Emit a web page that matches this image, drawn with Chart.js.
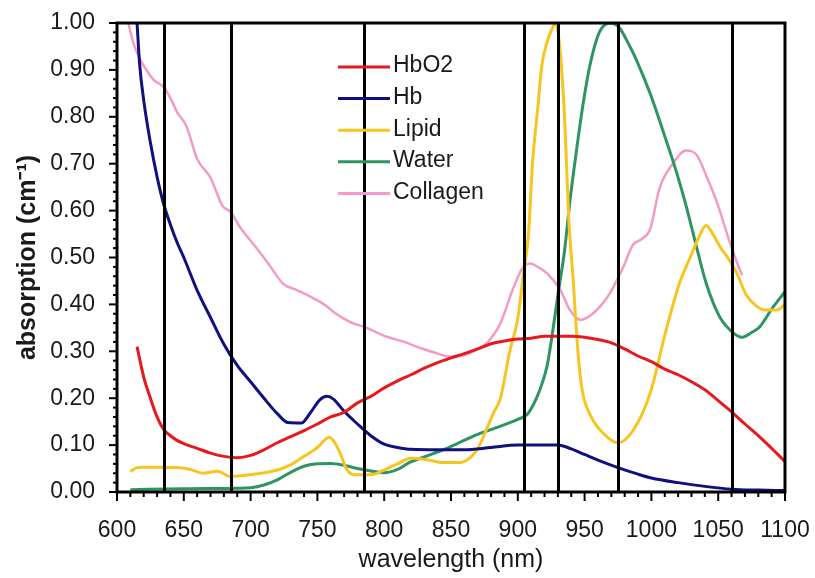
<!DOCTYPE html>
<html>
<head>
<meta charset="utf-8">
<script src="https://cdn.jsdelivr.net/npm/chart.js@4.4.1/dist/chart.umd.min.js"></script>
<style>
  html, body { margin: 0; padding: 0; background: #fff; }
  #wrap { width: 815px; height: 578px; }
</style>
</head>
<body>
<div id="wrap"><canvas id="absorcao" width="815" height="578"></canvas></div>
<script>
// valores: comprimento de onda (nm) e absorção (cm-1)
const hbo2Wl  = [615, 620, 625, 630, 635, 640, 645, 650, 660, 670, 680, 690, 700, 710, 720, 730, 740, 750, 760, 770, 780, 790, 800, 810, 820, 830, 840, 850, 860, 870, 880, 890, 900, 910, 920, 930, 940, 950, 960, 970, 980, 990, 1000, 1010, 1020, 1030, 1040, 1050, 1060, 1070, 1080, 1090, 1100];
const hbo2Abs = [0.31, 0.245, 0.20, 0.16, 0.133, 0.12, 0.11, 0.103, 0.093, 0.083, 0.076, 0.073, 0.078, 0.09, 0.105, 0.118, 0.131, 0.145, 0.16, 0.17, 0.19, 0.204, 0.222, 0.237, 0.25, 0.264, 0.276, 0.286, 0.295, 0.305, 0.316, 0.322, 0.326, 0.328, 0.332, 0.332, 0.332, 0.33, 0.325, 0.318, 0.305, 0.29, 0.278, 0.262, 0.25, 0.235, 0.218, 0.195, 0.171, 0.145, 0.12, 0.093, 0.065];

const hbWl  = [615, 617, 620, 625, 630, 635, 640, 645, 650, 660, 670, 680, 690, 700, 710, 720, 728, 738, 745, 752, 757, 762, 770, 780, 790, 800, 810, 820, 840, 860, 880, 900, 930, 940, 950, 960, 975, 990, 1000, 1020, 1040, 1060, 1080, 1100];
const hbAbs = [1.0, 0.91, 0.835, 0.745, 0.672, 0.613, 0.57, 0.532, 0.5, 0.43, 0.372, 0.315, 0.27, 0.235, 0.2, 0.167, 0.148, 0.147, 0.17, 0.197, 0.204, 0.198, 0.172, 0.145, 0.12, 0.102, 0.095, 0.091, 0.09, 0.09, 0.095, 0.1, 0.1, 0.092, 0.08, 0.068, 0.052, 0.038, 0.03, 0.02, 0.012, 0.006, 0.004, 0.003];

const lipidWl  = [610, 615, 620, 630, 645, 655, 664, 675, 685, 700, 720, 730, 740, 750, 759, 763, 767, 772, 778, 790, 800, 810, 820, 832, 844, 857, 865, 870, 876, 882, 887, 894, 900, 904, 908, 911, 915, 918, 922, 926, 928, 931, 935, 938, 941.5, 945, 948, 955, 964, 975, 986, 999, 1011, 1021, 1029, 1035, 1041, 1046, 1052, 1057, 1064, 1071, 1078, 1085, 1094, 1100];
const lipidAbs = [0.044, 0.052, 0.053, 0.053, 0.052, 0.048, 0.04, 0.044, 0.033, 0.037, 0.047, 0.058, 0.076, 0.095, 0.117, 0.105, 0.083, 0.048, 0.037, 0.037, 0.047, 0.06, 0.072, 0.069, 0.063, 0.063, 0.075, 0.092, 0.13, 0.17, 0.2, 0.3, 0.37, 0.46, 0.55, 0.70, 0.82, 0.91, 0.96, 0.99, 1.0, 0.96, 0.8, 0.59, 0.45, 0.3, 0.22, 0.16, 0.125, 0.105, 0.13, 0.21, 0.345, 0.445, 0.50, 0.54, 0.568, 0.55, 0.52, 0.5, 0.466, 0.42, 0.398, 0.388, 0.388, 0.40];

const waterWl  = [610, 650, 690, 700, 710, 720, 730, 740, 750, 760, 770, 780, 790, 800, 810, 819, 830, 844, 856, 869, 882, 894, 900, 907, 914, 918, 922, 926, 930, 935, 939, 944, 949, 954, 961, 969, 976, 983, 989, 999, 1011, 1019, 1026, 1034, 1041, 1051, 1061, 1068, 1075, 1081, 1090, 1100];
const waterAbs = [0.005, 0.007, 0.008, 0.009, 0.015, 0.026, 0.042, 0.055, 0.06, 0.061, 0.057, 0.05, 0.045, 0.041, 0.048, 0.063, 0.075, 0.09, 0.105, 0.122, 0.135, 0.148, 0.155, 0.165, 0.2, 0.23, 0.27, 0.34, 0.42, 0.515, 0.62, 0.73, 0.83, 0.91, 0.98, 1.0, 0.99, 0.955, 0.92, 0.85, 0.75, 0.68, 0.61, 0.52, 0.445, 0.374, 0.34, 0.33, 0.34, 0.352, 0.39, 0.427];

const collagenWl  = [608.5, 612, 617, 622, 627, 635, 640, 645, 652, 660, 670, 679, 685, 692, 705, 715, 724, 735, 745, 755, 764, 774, 787, 802, 815, 827, 838, 849, 857, 864, 870, 877, 887, 896, 903, 909, 916, 922, 932, 939, 947, 956, 963, 969, 979, 986, 993, 999, 1006, 1016, 1026, 1034, 1041, 1049, 1059, 1064, 1068];
const collagenAbs = [1.0, 0.96, 0.924, 0.9, 0.88, 0.863, 0.84, 0.81, 0.78, 0.71, 0.67, 0.61, 0.597, 0.565, 0.518, 0.48, 0.445, 0.43, 0.416, 0.4, 0.38, 0.363, 0.35, 0.331, 0.32, 0.307, 0.297, 0.289, 0.29, 0.296, 0.305, 0.318, 0.36, 0.43, 0.475, 0.487, 0.478, 0.466, 0.43, 0.388, 0.367, 0.38, 0.4, 0.424, 0.48, 0.526, 0.54, 0.56, 0.647, 0.70, 0.728, 0.718, 0.675, 0.618, 0.53, 0.49, 0.462];

// linhas verticais (comprimentos de onda dos lasers)
const markerWl = [635, 685, 785, 905, 930, 975, 1060];

const seriesNames  = ['HbO2', 'Hb', 'Lipid', 'Water', 'Collagen'];
const seriesColors = ['#e8191e', '#10107e', '#f7c520', '#2e9462', '#f39ac7'];

const xTicks = [600, 650, 700, 750, 800, 850, 900, 950, 1000, 1050, 1100];

const FONT = "'Liberation Sans', Arial, sans-serif";

function pontos(wl, abs) {
    return wl.map((w, i) => ({ x: w, y: abs[i] }));
}

function semFolga(s) {
    s.paddingTop = 0;
    s.paddingBottom = 0;
    s.paddingLeft = 0;
    s.paddingRight = 0;
}

const decorPlugin = {
    id: 'decor',
    afterDatasetsDraw(chart) {
        const { ctx, chartArea: a, scales: { x, y } } = chart;
        ctx.save();
        ctx.strokeStyle = '#000';

        // linhas verticais
        ctx.lineWidth = 3;
        markerWl.forEach(w => {
            const px = Math.round(x.getPixelForValue(w)) + 0.5;
            ctx.beginPath();
            ctx.moveTo(px, a.top);
            ctx.lineTo(px, a.bottom);
            ctx.stroke();
        });

        // moldura
        ctx.strokeRect(a.left, a.top, a.right - a.left, a.bottom - a.top);

        // marcas dos eixos
        ctx.lineWidth = 2;
        for (let w = 600; w <= 1100; w += 10) {
            const px = x.getPixelForValue(w);
            const len = (w % 50 === 0) ? 9 : 5;
            ctx.beginPath();
            ctx.moveTo(px, a.bottom);
            ctx.lineTo(px, a.bottom + len);
            ctx.stroke();
        }
        for (let i = 0; i <= 50; i++) {
            const py = y.getPixelForValue(i / 50);
            const len = (i % 5 === 0) ? 8 : 4;
            ctx.beginPath();
            ctx.moveTo(a.left - len, py);
            ctx.lineTo(a.left, py);
            ctx.stroke();
        }

        // legenda
        ctx.font = '23px ' + FONT;
        ctx.textBaseline = 'middle';
        ctx.textAlign = 'left';
        chart.data.datasets.forEach((ds, i) => {
            const ly = 67 + i * 31.6;
            ctx.strokeStyle = ds.borderColor;
            ctx.lineWidth = 3;
            ctx.beginPath();
            ctx.moveTo(338, ly);
            ctx.lineTo(390, ly);
            ctx.stroke();
            ctx.fillStyle = '#1a1a1a';
            ctx.fillText(ds.label, 393, ly - 1);
        });
        ctx.restore();
    }
};

document.addEventListener('DOMContentLoaded', function () {
    const ctx = document.getElementById('absorcao');
    const series = [
        pontos(hbo2Wl, hbo2Abs),
        pontos(hbWl, hbAbs),
        pontos(lipidWl, lipidAbs),
        pontos(waterWl, waterAbs),
        pontos(collagenWl, collagenAbs)
    ];

    new Chart(ctx, {
        type: 'line',
        data: {
            datasets: series.map((d, i) => ({
                label: seriesNames[i],
                data: d,
                borderColor: seriesColors[i],
                backgroundColor: seriesColors[i],
                borderWidth: i === 4 ? 2.5 : 3,
                pointRadius: 0,
                fill: false,
                cubicInterpolationMode: 'monotone'
            }))
        },
        options: {
            responsive: false,
            animation: false,
            layout: { padding: { top: 23, right: 30, left: 0, bottom: 0 } },
            plugins: {
                legend: { display: false },
                tooltip: { enabled: false }
            },
            scales: {
                x: {
                    type: 'linear',
                    min: 600,
                    max: 1100,
                    afterBuildTicks: s => { s.ticks = xTicks.map(v => ({ value: v })); },
                    afterFit: s => { s.height = 86; semFolga(s); },
                    grid: { display: false, drawTicks: false },
                    border: { display: false },
                    ticks: {
                        autoSkip: false,
                        maxRotation: 0,
                        padding: 25,
                        color: '#1a1a1a',
                        font: { family: FONT, size: 23 },
                        callback: v => String(v)
                    },
                    title: {
                        display: true,
                        text: 'wavelength (nm)',
                        color: '#1a1a1a',
                        font: { family: FONT, size: 25 },
                        padding: { top: 0, bottom: 3 }
                    }
                },
                y: {
                    min: 0,
                    max: 1,
                    afterFit: s => { s.width = 117; semFolga(s); },
                    grid: { display: false, drawTicks: false },
                    border: { display: false },
                    ticks: {
                        stepSize: 0.1,
                        padding: 22,
                        color: '#1a1a1a',
                        font: { family: FONT, size: 23 },
                        callback: v => v.toFixed(2)
                    },
                    title: {
                        display: true,
                        text: 'absorption (cm\u207B\u00B9)',
                        color: '#1a1a1a',
                        font: { family: FONT, size: 25, weight: 'bold' },
                        padding: { top: 13, bottom: 0 }
                    }
                }
            }
        },
        plugins: [decorPlugin]
    });
});
</script>
</body>
</html>
